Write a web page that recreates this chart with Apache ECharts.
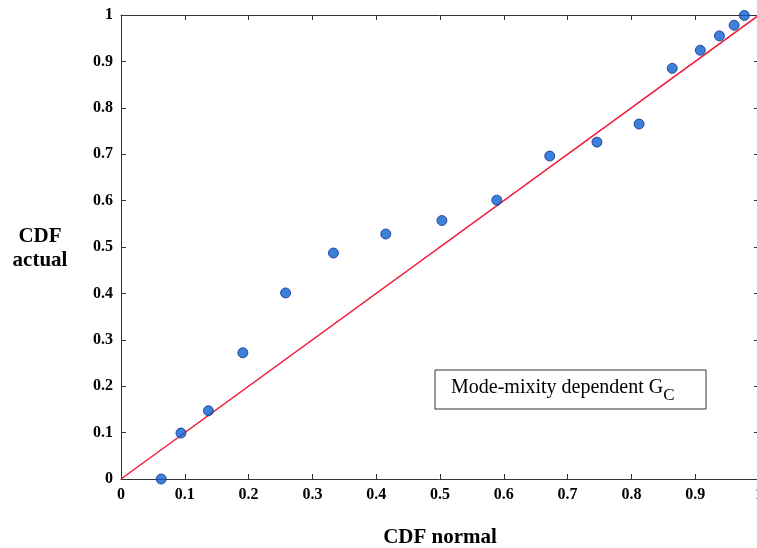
<!DOCTYPE html>
<html>
<head>
<meta charset="utf-8">
<script src="https://cdn.jsdelivr.net/npm/echarts@6/dist/echarts.min.js"></script>
<style>html,body{margin:0;padding:0;background:#fff}#c{width:757px;height:548px}</style>
</head>
<body>
<div id="c"></div>
<script>
const cdfNormal = [0.063, 0.094, 0.137, 0.191, 0.258, 0.333, 0.415, 0.503, 0.589, 0.672, 0.746, 0.812, 0.864, 0.908, 0.938, 0.961, 0.977];
const cdfActual = [0.0, 0.099, 0.147, 0.272, 0.401, 0.487, 0.528, 0.557, 0.601, 0.696, 0.726, 0.765, 0.885, 0.924, 0.955, 0.978, 0.999];
const refLineX = [0, 1];
const refLineY = [0, 1];
const xTickLabels = ['0','0.1','0.2','0.3','0.4','0.5','0.6','0.7','0.8','0.9','1'];
const yTickLabels = ['0','0.1','0.2','0.3','0.4','0.5','0.6','0.7','0.8','0.9','1'];

const chart = echarts.init(document.getElementById('c'), null, {renderer: 'canvas'});
const font = 'Liberation Serif';
const axisLine = {show: true, onZero: false, lineStyle: {color: '#333', width: 1}};
const tick = {show: true, inside: true, length: 5, lineStyle: {color: '#333'}};
function fmt(list){ return v => { const i = Math.round(v*10); return list[i] !== undefined ? list[i] : ''; }; }

chart.setOption({
  animation: false,
  backgroundColor: '#fff',
  grid: {left: 121, top: 15, width: 638, height: 464, containLabel: false, outerBoundsMode: 'none'},
  xAxis: [
    {type: 'value', min: 0, max: 1, interval: 0.1, position: 'bottom',
     axisLine, axisTick: tick, splitLine: {show: false},
     axisLabel: {formatter: fmt(xTickLabels), fontFamily: font, fontWeight: 'bold', fontSize: 16, color: '#000', margin: 8},
     name: 'CDF normal', nameLocation: 'middle', nameGap: 48,
     nameTextStyle: {fontFamily: font, fontWeight: 'bold', fontSize: 21, color: '#000'}},
    {type: 'value', min: 0, max: 1, interval: 0.1, position: 'top',
     axisLine, axisTick: tick, axisLabel: {show: false}, splitLine: {show: false}}
  ],
  yAxis: [
    {type: 'value', min: 0, max: 1, interval: 0.1, position: 'left',
     axisLine, axisTick: tick, splitLine: {show: false},
     axisLabel: {formatter: fmt(yTickLabels), fontFamily: font, fontWeight: 'bold', fontSize: 16, color: '#000', margin: 8}},
    {type: 'value', min: 0, max: 1, interval: 0.1, position: 'right',
     axisLine, axisTick: tick, axisLabel: {show: false}, splitLine: {show: false}}
  ],
  graphic: [
    {type: 'text', x: 40, y: 225, style: {text: 'CDF\nactual', fontFamily: font, fontWeight: 'bold', fontSize: 21, fill: '#000', align: 'center', lineHeight: 24}},
    {type: 'group', x: 435, y: 370, children: [
      {type: 'rect', shape: {x: 0, y: 0, width: 271, height: 39}, style: {fill: '#fff', stroke: '#333', lineWidth: 1}},
      {type: 'text', style: {x: 16, y: 8, text: '{m|Mode-mixity dependent G}{s|C}',
        rich: {m: {fontFamily: font, fontSize: 20, fill: '#000', verticalAlign: 'top'},
               s: {fontFamily: font, fontSize: 17, fill: '#000', padding: [9, 0, 0, 0], verticalAlign: 'top'}}}}
    ]}
  ],
  series: [
    {type: 'line', data: refLineX.map((x, i) => [x, refLineY[i]]), showSymbol: false, symbol: 'none',
     lineStyle: {color: '#f01a3a', width: 1.5}, z: 2},
    {type: 'scatter', data: cdfNormal.map((x, i) => [x, cdfActual[i]]), symbol: 'circle', symbolSize: 10,
     itemStyle: {color: '#0c5fd0', borderColor: '#0a3590', borderWidth: 1}, z: 3}
  ]
});
</script>
</body>
</html>
